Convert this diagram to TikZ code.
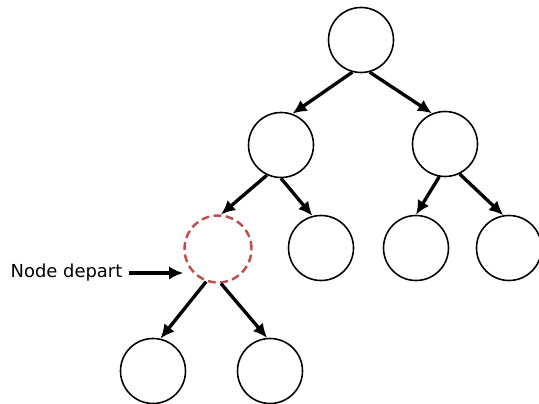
\documentclass[tikz,border=0pt]{standalone}
\usepackage{fontspec}
\setsansfont{DejaVu Sans}
\usetikzlibrary{arrows.meta}
\definecolor{departred}{RGB}{192,78,78}
\begin{document}
\begin{tikzpicture}[
                noeud/.style={circle,draw,line width=0.9pt,minimum size=1.3cm,inner sep=0pt},
                depart/.style={noeud,draw=departred,dashed,line width=1.4pt,dash pattern=on 4.5pt off 2.5pt,minimum size=1.34cm},
                fleche/.style={line width=1.9pt,-{Latex[length=8pt,width=7.5pt]}}]
                \useasboundingbox (0,0) rectangle (10.78,8.06);
                \node[noeud] (racine) at (7.22,7.26) {};
                \node[noeud] (g) at (5.62,5.16) {};
                \node[noeud] (d) at (8.90,5.18) {};
                \node[depart] (gg) at (4.36,3.08) {};
                \node[noeud] (gd) at (6.42,3.10) {};
                \node[noeud] (dg) at (8.32,3.10) {};
                \node[noeud] (dd) at (10.18,3.10) {};
                \node[noeud] (ggg) at (3.06,0.64) {};
                \node[noeud] (ggd) at (5.40,0.64) {};
                \draw[fleche] (racine.255)--(g.70);
                \draw[fleche] (racine.285)--(d.113);
                \draw[fleche] (g.245)--(gg.85);
                \draw[fleche] (g.270)--(gd.105);
                \draw[fleche] (d.260)--(dg.90);
                \draw[fleche] (d.296)--(dd.100);
                \draw[fleche] (gg.250)--(ggg.77);
                \draw[fleche] (gg.275)--(ggd.95);
                \node[font=\sffamily\fontsize{10.2}{12}\selectfont] (lbl) at (1.33,2.60) {Node depart};
                \draw[fleche,line width=2.4pt] (lbl.east)--(lbl.east -| gg.west);
                \end{tikzpicture}
\end{document}
